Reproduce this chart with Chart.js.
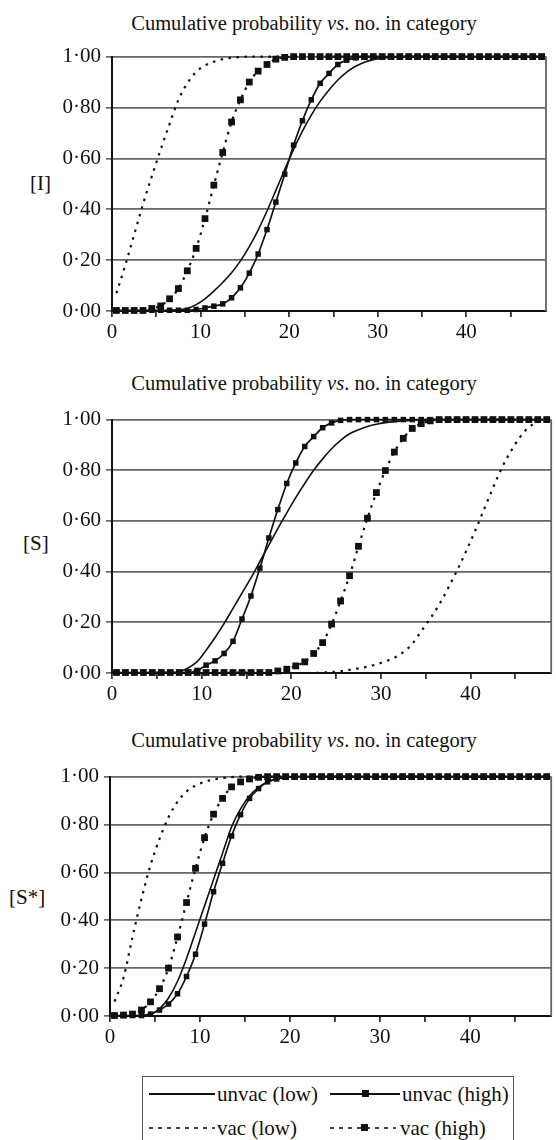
<!DOCTYPE html>
<html>
<head>
<meta charset="utf-8">
<script src="https://cdn.jsdelivr.net/npm/chart.js@4.4.1/dist/chart.umd.min.js"></script>
<style>
  body { margin: 0; width: 556px; height: 1140px; overflow: hidden; position: relative; background: #fff;
         font-family: "Liberation Serif", "Times New Roman", serif; color: #111; }
  .title { position: absolute; left: 0; width: 608px; text-align: center; font-size: 20.5px; line-height: 24px; }
  .ylab { position: absolute; font-size: 21px; line-height: 24px; }
  .panel { position: absolute; left: 0; width: 556px; }
  #legend { position: absolute; left: 142px; top: 1076px; width: 372px; height: 90px; border: 1.5px solid #555; box-sizing: border-box; }
  .sample { position: absolute; height: 2px; }
  .solid { background: #111; }
  .dotted { background: repeating-linear-gradient(90deg, #444 0 4px, transparent 4px 9px); }
  .mark { position: absolute; width: 7px; height: 7px; background: #111; }
  .lbl { position: absolute; font-size: 21px; line-height: 24px; white-space: nowrap; }
</style>
</head>
<body>

<div class="title" style="top:11px">Cumulative probability <i>vs</i>. no. in category</div>
<div class="ylab" style="left:30px;top:171px">[I]</div>
<div class="panel" id="p1"><canvas id="c1"></canvas></div>

<div class="title" style="top:371px">Cumulative probability <i>vs</i>. no. in category</div>
<div class="ylab" style="left:23px;top:531px">[S]</div>
<div class="panel" id="p2"><canvas id="c2"></canvas></div>

<div class="title" style="top:728px">Cumulative probability <i>vs</i>. no. in category</div>
<div class="ylab" style="left:9px;top:885px">[S*]</div>
<div class="panel" id="p3"><canvas id="c3"></canvas></div>

<div id="legend">
  <div class="sample solid" style="left:6px;top:16px;width:66px"></div>
  <div class="lbl" style="left:74px;top:5px">unvac (low)</div>
  <div class="sample solid" style="left:187px;top:16px;width:70px"></div>
  <div class="mark" style="left:219px;top:13px"></div>
  <div class="lbl" style="left:259px;top:5px">unvac (high)</div>
  <div class="sample dotted" style="left:6px;top:50px;width:66px"></div>
  <div class="lbl" style="left:74px;top:39px">vac (low)</div>
  <div class="sample dotted" style="left:187px;top:50px;width:66px"></div>
  <div class="mark" style="left:218px;top:47px"></div>
  <div class="lbl" style="left:257px;top:39px">vac (high)</div>
</div>

<script>
// number in category (each point sits in the middle of its slot)
const counts = [0,1,2,3,4,5,6,7,8,9,10,11,12,13,14,15,16,17,18,19,20,21,22,23,24,
                25,26,27,28,29,30,31,32,33,34,35,36,37,38,39,40,41,42,43,44,45,46,47,48];
const xLabelled = [0, 10, 20, 30, 40];
const seriesNames = ['unvac (low)', 'unvac (high)', 'vac (low)', 'vac (high)'];

// [I]
const iUnvacLow = [0,0,0,0,0,0,0.002,0.005,0.01,0.025,0.048,0.078,0.112,0.15,0.197,0.253,0.318,0.393,0.474,0.556,
                   0.635,0.707,0.77,0.824,0.869,0.908,0.939,0.962,0.978,0.988,0.994,0.998,1,1,1,1,1,1,1,1,1,1,1,1,1,1,1,1,1];
const iUnvacHigh = [0.003,0.003,0.003,0.003,0.003,0.003,0.003,0.003,0.003,0.006,0.012,0.019,0.028,0.052,0.091,0.149,0.224,0.32,0.428,0.538,
                    0.652,0.748,0.83,0.895,0.934,0.969,0.986,0.995,1,1,1,1,1,1,1,1,1,1,1,1,1,1,1,1,1,1,1,1,1];
const iVacLow = [0.07,0.18,0.3,0.42,0.53,0.635,0.735,0.83,0.895,0.94,0.965,0.98,0.99,0.995,0.998,
                 1,1,1,1,1,1,1,1,1,1,1,1,1,1,1,1,1,1,1,1,1,1,1,1,1,1,1,1,1,1,1,1,1,1];
const iVacHigh = [0.002,0.002,0.002,0.002,0.01,0.02,0.048,0.088,0.158,0.246,0.363,0.495,0.623,0.743,0.83,0.9,0.943,0.969,0.99,0.997,
                  1,1,1,1,1,1,1,1,1,1,1,1,1,1,1,1,1,1,1,1,1,1,1,1,1,1,1,1,1];

// [S]
const sUnvacLow = [0,0,0,0,0,0,0,0.005,0.02,0.045,0.09,0.14,0.195,0.255,0.315,0.375,0.44,0.505,0.57,0.632,
                   0.692,0.748,0.8,0.845,0.885,0.918,0.944,0.96,0.973,0.982,0.988,0.992,0.995,0.998,1,1,1,1,1,1,1,1,1,1,1,1,1,1,1];
const sUnvacHigh = [0.002,0.002,0.002,0.002,0.002,0.002,0.002,0.002,0.002,0.01,0.031,0.048,0.077,0.125,0.213,0.304,0.414,0.533,0.645,0.748,
                    0.829,0.894,0.933,0.968,0.987,0.997,1,1,1,1,1,1,1,1,1,1,1,1,1,1,1,1,1,1,1,1,1,1,1];
const sVacLow = [0,0,0,0,0,0,0,0,0,0,0,0,0,0,0,0,0,0,0,0,0,0,0,0.002,0.004,0.007,0.012,0.018,0.025,0.034,
                 0.046,0.06,0.082,0.115,0.165,0.215,0.27,0.335,0.405,0.48,0.56,0.645,0.73,0.81,0.875,0.93,0.97,0.99,1];
const sVacHigh = [0.002,0.002,0.002,0.002,0.002,0.002,0.002,0.002,0.002,0.002,0.002,0.002,0.002,0.002,0.002,0.002,0.002,0.002,0.008,0.015,
                  0.028,0.044,0.077,0.12,0.193,0.284,0.384,0.5,0.611,0.712,0.799,0.872,0.926,0.965,0.984,0.995,1,1,1,1,1,1,1,1,1,1,1,1,1];

// [S*]
const ssUnvacLow = [0,0,0.001,0.003,0.008,0.03,0.075,0.145,0.24,0.35,0.46,0.57,0.68,0.79,0.865,0.92,0.955,0.978,0.99,0.996,
                    1,1,1,1,1,1,1,1,1,1,1,1,1,1,1,1,1,1,1,1,1,1,1,1,1,1,1,1,1];
const ssUnvacHigh = [0.002,0.002,0.002,0.002,0.008,0.025,0.05,0.093,0.165,0.258,0.384,0.519,0.638,0.752,0.841,0.909,0.95,0.978,0.99,0.997,
                     1,1,1,1,1,1,1,1,1,1,1,1,1,1,1,1,1,1,1,1,1,1,1,1,1,1,1,1,1];
const ssVacLow = [0.06,0.16,0.33,0.49,0.63,0.74,0.83,0.895,0.938,0.963,0.978,0.988,0.994,0.998,
                  1,1,1,1,1,1,1,1,1,1,1,1,1,1,1,1,1,1,1,1,1,1,1,1,1,1,1,1,1,1,1,1,1,1,1];
const ssVacHigh = [0.002,0.004,0.008,0.025,0.059,0.114,0.2,0.33,0.474,0.617,0.745,0.843,0.909,0.957,0.978,0.99,0.997,
                   1,1,1,1,1,1,1,1,1,1,1,1,1,1,1,1,1,1,1,1,1,1,1,1,1,1,1,1,1,1,1,1];

const font = { family: '"Liberation Serif", "Times New Roman", serif', size: 21 };

// plot-area boxes in page pixels
const panels = [
  { el: 'p1', canvas: 'c1', top: 53, bottom: 311, left: 112, right: 546, series: [iUnvacLow, iUnvacHigh, iVacLow, iVacHigh] },
  { el: 'p2', canvas: 'c2', top: 416, bottom: 673, left: 112, right: 555, series: [sUnvacLow, sUnvacHigh, sVacLow, sVacHigh] },
  { el: 'p3', canvas: 'c3', top: 773, bottom: 1016, left: 110, right: 553, series: [ssUnvacLow, ssUnvacHigh, ssVacLow, ssVacHigh] }
];

const PAD_TOP = 14;
const X_AXIS_H = 40;

// grey right-hand edge of the plot frame
const framePlugin = {
  id: 'frame',
  beforeDatasetsDraw(chart) {
    const { ctx, chartArea } = chart;
    ctx.save();
    ctx.strokeStyle = '#666';
    ctx.lineWidth = 1.8;
    ctx.beginPath();
    ctx.moveTo(chartArea.right, chartArea.top);
    ctx.lineTo(chartArea.right, chartArea.bottom);
    ctx.stroke();
    ctx.restore();
  }
};

function toPoints(values) {
  return counts.map((c, i) => ({ x: c + 0.5, y: values[i] }));
}

function buildDatasets(series) {
  const base = { borderColor: '#111', pointBackgroundColor: '#111', pointBorderWidth: 0,
                 cubicInterpolationMode: 'monotone', clip: false, pointHoverRadius: 0 };
  return [
    { ...base, label: seriesNames[0], data: toPoints(series[0]), borderWidth: 1.6, pointRadius: 0 },
    { ...base, label: seriesNames[1], data: toPoints(series[1]), borderWidth: 1.7, pointStyle: 'rect', pointRadius: 3.9 },
    { ...base, label: seriesNames[2], data: toPoints(series[2]), borderWidth: 2.2, borderDash: [2.5, 5.5], pointRadius: 0 },
    { ...base, label: seriesNames[3], data: toPoints(series[3]), borderWidth: 2.2, borderDash: [2.5, 5.5], pointStyle: 'rect', pointRadius: 4.8 }
  ];
}

panels.forEach(p => {
  const box = document.getElementById(p.el);
  box.style.top = (p.top - PAD_TOP) + 'px';
  box.style.height = (p.bottom - p.top + PAD_TOP + X_AXIS_H) + 'px';

  new Chart(document.getElementById(p.canvas), {
    type: 'line',
    data: { datasets: buildDatasets(p.series) },
    options: {
      responsive: true,
      maintainAspectRatio: false,
      animation: false,
      events: [],
      layout: { padding: { top: PAD_TOP, left: 0, right: 556 - p.right, bottom: 0 } },
      plugins: { legend: { display: false }, title: { display: false }, tooltip: { enabled: false } },
      scales: {
        x: {
          type: 'linear',
          min: 0,
          max: counts.length,
          afterFit: s => { s.height = X_AXIS_H; },
          border: { display: true, color: '#111', width: 2 },
          grid: { drawOnChartArea: false, drawTicks: true, tickLength: 6, color: '#333', lineWidth: 1.8 },
          ticks: {
            stepSize: 5,
            includeBounds: false,
            autoSkip: false,
            maxRotation: 0,
            padding: 3,
            color: '#111',
            font: font,
            callback: v => (xLabelled.includes(v) ? String(v) : '')
          }
        },
        y: {
          min: 0,
          max: 1,
          afterFit: s => { s.width = p.left; },
          border: { display: true, color: '#111', width: 2 },
          grid: { color: '#666', lineWidth: 1.7, tickLength: 6 },
          ticks: {
            stepSize: 0.2,
            padding: 5,
            color: '#111',
            font: font,
            callback: v => v.toFixed(2).replace('.', '\u00b7')
          }
        }
      }
    },
    plugins: [framePlugin]
  });
});
</script>
</body>
</html>
